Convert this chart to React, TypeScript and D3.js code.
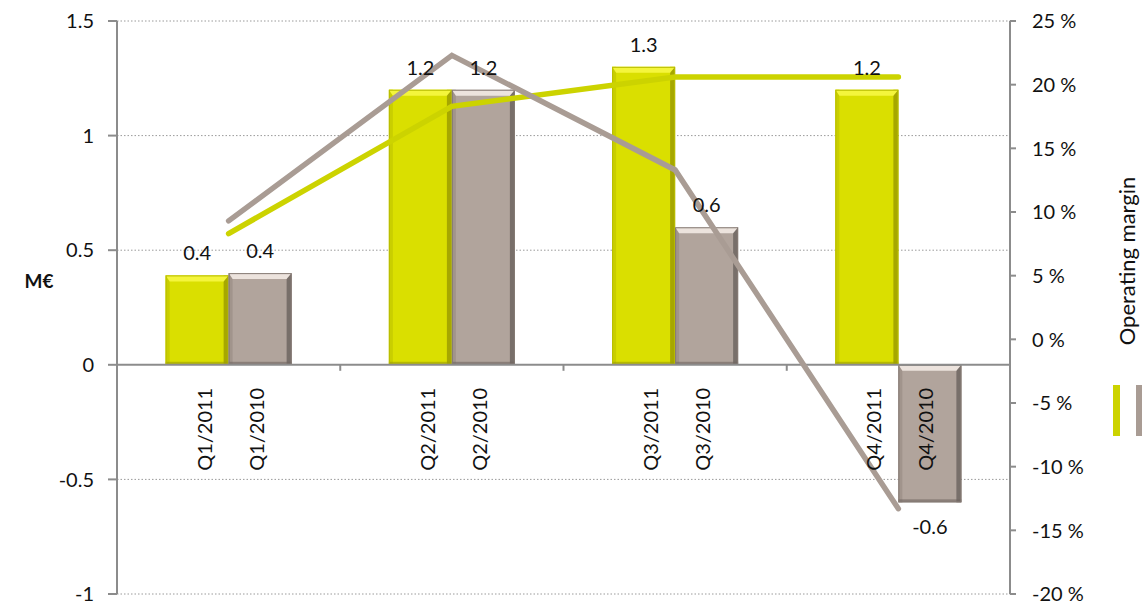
import React from "react";
import * as d3 from "d3";

const quarters = ["Q1", "Q2", "Q3", "Q4"];
const years = ["2011", "2010"];
const result2011 = [0.39, 1.2, 1.3, 1.2];
const result2010 = [0.4, 1.2, 0.6, -0.6];
const labels2011 = ["0.4", "1.2", "1.3", "1.2"];
const labels2010 = ["0.4", "1.2", "0.6", "-0.6"];
const margin2011 = [8.3, 18.3, 20.6, 20.6];
const margin2010 = [9.3, 22.3, 13.3, -13.3];
const leftTicks = [-1, -0.5, 0, 0.5, 1, 1.5];
const leftTickLabels = ["-1", "-0.5", "0", "0.5", "1", "1.5"];
const rightTicks = [-20, -15, -10, -5, 0, 5, 10, 15, 20, 25];
const leftTitle = "M€";
const rightTitle = "Operating margin";

const W = 1142;
const H = 604;
const X0 = 117;
const X1 = 1010;
const Y0 = 594;
const Y1 = 21;
const BAR_W = 63;
const FONT = "Lato, 'Open Sans', sans-serif";

const COLORS: Record<string, any> = {
  "2011": { body: "#dadf00", light: "#f4f53c", dark: "#9c9e00", left: "#c9ce00", line: "#ccd300", outline: "#b8bc00" },
  "2010": { body: "#b1a49c", light: "#ece3dd", dark: "#6f6661", left: "#a1948c", line: "#a99c94", outline: "#857a74" },
};

export default function App() {
  const x = d3.scaleBand<string>().domain(quarters).range([X0, X1]);
  const inner = d3.scaleBand<string>().domain(years).range([0, BAR_W * 2]);
  const yL = d3.scaleLinear().domain([-1, 1.5]).range([Y0, Y1]);
  const yR = d3.scaleLinear().domain([-20, 25]).range([Y0, Y1]);
  const center = (q: string) => (x(q) as number) + x.bandwidth() / 2;

  const data = [
    { year: "2011", values: result2011, labels: labels2011, margin: margin2011, catOffset: -24 },
    { year: "2010", values: result2010, labels: labels2010, margin: margin2010, catOffset: 28 },
  ];

  const line = d3
    .line<[number, number]>()
    .x((d) => d[0])
    .y((d) => d[1]);

  const y0 = yL(0);

  return (
    <svg width={W} height={H} style={{ position: "absolute", left: 0, top: 0, background: "#fff" }} fontFamily={FONT}>
      {leftTicks.filter((t) => t !== 0).map((t) => (
        <line key={"g" + t} x1={X0} x2={X1} y1={yL(t)} y2={yL(t)} stroke="#9a9a9a" strokeWidth={1} strokeDasharray="1.5,2" />
      ))}
      <line x1={X0} x2={X0} y1={Y1} y2={Y0} stroke="#8c8c8c" strokeWidth={2} />
      {leftTicks.map((t, i) => (
        <g key={"lt" + t}>
          <line x1={X0 - 9} x2={X0} y1={yL(t)} y2={yL(t)} stroke="#8c8c8c" strokeWidth={2} />
          <text x={94} y={yL(t)} dy="0.36em" textAnchor="end" fontSize={20} fill="#111">
            {leftTickLabels[i]}
          </text>
        </g>
      ))}
      <text x={39} y={281} dy="0.36em" textAnchor="middle" fontSize={19} fontWeight="bold" fill="#111">
        {leftTitle}
      </text>
      <line x1={X1} x2={X1} y1={Y1} y2={Y0} stroke="#8c8c8c" strokeWidth={2} />
      {rightTicks.map((t) => (
        <g key={"rt" + t}>
          <line x1={X1} x2={X1 + 6} y1={yR(t)} y2={yR(t)} stroke="#8c8c8c" strokeWidth={2} />
          <text x={1032} y={yR(t)} dy="0.36em" textAnchor="start" fontSize={20} fill="#111">
            {`${t} %`}
          </text>
        </g>
      ))}
      <text transform={`translate(1135, 261) rotate(-90)`} textAnchor="middle" fontSize={22} fill="#111">
        {rightTitle}
      </text>
      <rect x={1113} y={385} width={7} height={51} fill={COLORS["2011"].line} />
      <rect x={1136} y={385} width={7} height={51} fill={COLORS["2010"].line} />

      {data.map((s) =>
        quarters.map((q, i) => {
          const v = s.values[i];
          const c = COLORS[s.year];
          const bx = center(q) - BAR_W + (inner(s.year) as number);
          const top = Math.min(yL(v), y0);
          const bot = Math.max(yL(v), y0);
          const h = bot - top;
          const bev = 6;
          return (
            <g key={s.year + q}>
              <rect x={bx} y={top} width={BAR_W} height={h} fill={c.body} />
              <rect x={bx} y={top} width={4} height={h} fill={c.left} />
              <rect x={bx + BAR_W - 5} y={top} width={5} height={h} fill={c.dark} opacity={0.85} />
              <polygon
                points={`${bx},${top} ${bx + BAR_W},${top} ${bx + BAR_W - 5},${top + bev} ${bx + 4},${top + bev}`}
                fill={c.light}
              />
              <rect x={bx} y={bot - 3} width={BAR_W} height={3} fill={c.dark} opacity={0.6} />
              <rect x={bx + 0.5} y={top + 0.5} width={BAR_W - 1} height={h - 1} fill="none" stroke={c.outline} strokeWidth={1} />
            </g>
          );
        })
      )}

      <line x1={X0} x2={X1} y1={y0} y2={y0} stroke="#8c8c8c" strokeWidth={2} />
      {quarters.slice(1).map((q) => (
        <line key={"ct" + q} x1={x(q) as number} x2={x(q) as number} y1={y0} y2={y0 + 6} stroke="#8c8c8c" strokeWidth={2} />
      ))}

      {data.map((s) => (
        <path
          key={"line" + s.year}
          d={line(quarters.map((q, i) => [center(q), yR(s.margin[i])])) || ""}
          fill="none"
          stroke={COLORS[s.year].line}
          strokeWidth={5.5}
          strokeLinecap="round"
          strokeLinejoin="miter"
        />
      ))}

      {data.map((s) =>
        quarters.map((q, i) => {
          const v = s.values[i];
          const cx = center(q) - BAR_W + (inner(s.year) as number) + BAR_W / 2;
          const ty = v >= 0 ? yL(v) - 15 : yL(v) + 32;
          return (
            <text key={"vl" + s.year + q} x={cx} y={ty} textAnchor="middle" fontSize={20} fill="#111">
              {s.labels[i]}
            </text>
          );
        })
      )}

      {data.map((s) =>
        quarters.map((q) => {
          const cx = center(q) + s.catOffset;
          return (
            <text
              key={"cl" + s.year + q}
              transform={`translate(${cx + 7}, ${y0 + 23}) rotate(-90)`}
              textAnchor="end"
              fontSize={20}
              fill="#111"
            >
              {`${q}/${s.year}`}
            </text>
          );
        })
      )}
    </svg>
  );
}
